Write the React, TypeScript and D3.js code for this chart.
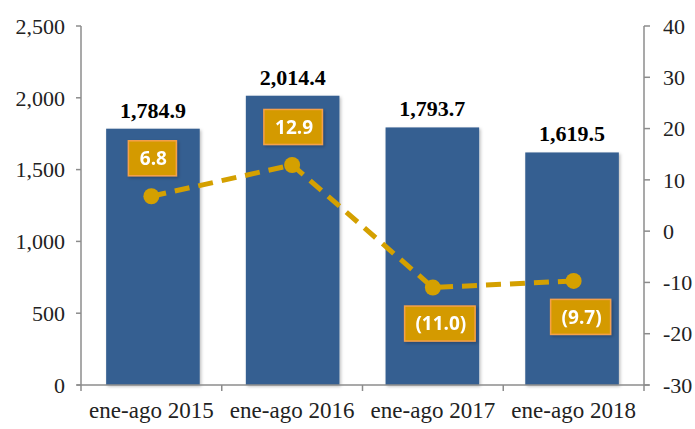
import React from "react";
import * as d3 from "d3";

const categories = ["ene-ago 2015", "ene-ago 2016", "ene-ago 2017", "ene-ago 2018"];
const barValues = [1784.9, 2014.4, 1793.7, 1619.5];
const growthValues = [6.8, 12.9, -11.0, -9.7];
const leftTicks = [0, 500, 1000, 1500, 2000, 2500];
const rightTicks = [-30, -20, -10, 0, 10, 20, 30, 40];

const W = 695;
const H = 429;
const M = { left: 81, right: 51, top: 26, bottom: 44 };

const BAR_COLOR = "#365F91";
const LINE_COLOR = "#D4A000";
const BOX_FILL = "#D49A00";
const BOX_STROKE = "#F5A04A";
const AXIS_COLOR = "#8C8C8C";

const fmtBar = d3.format(",.1f");
const fmtGrowth = (v: number) => (v < 0 ? `(${Math.abs(v).toFixed(1)})` : v.toFixed(1));

function textWidth(s: string) {
  let w = 0;
  for (const c of s) {
    if (c === ".") w += 5;
    else if (c === "(" || c === ")") w += 6;
    else w += 10.5;
  }
  return w;
}

export default function App() {
  const x = d3
    .scaleBand<string>()
    .domain(categories)
    .range([M.left, W - M.right])
    .paddingInner(0.33)
    .paddingOuter(0.18);
  const xCat = d3.scaleBand<string>().domain(categories).range([M.left, W - M.right]);
  const yL = d3.scaleLinear().domain([0, 2500]).range([H - M.bottom, M.top]);
  const yR = d3.scaleLinear().domain([-30, 40]).range([H - M.bottom, M.top]);

  const pts = growthValues.map((v, i) => [xCat(categories[i])! + xCat.bandwidth() / 2, yR(v)] as [number, number]);
  const line = d3.line()(pts) || "";
  const serif = "'Liberation Serif', 'Times New Roman', serif";
  const x0 = M.left;
  const x1 = W - M.right;
  const yBase = H - M.bottom;

  return (
    <svg width={W} height={H} style={{ position: "absolute", left: 0, top: 0, background: "#fff" }}>
      <defs>
        <filter id="sh" x="-20%" y="-20%" width="140%" height="140%">
          <feDropShadow dx="1.5" dy="1.5" stdDeviation="1.5" floodColor="#000" floodOpacity="0.25" />
        </filter>
        <filter id="soft" x="-50%" y="-50%" width="200%" height="200%">
          <feGaussianBlur stdDeviation="0.6" />
        </filter>
      </defs>

      {/* bars */}
      {barValues.map((v, i) => (
        <rect
          key={i}
          x={x(categories[i])}
          y={yL(v)}
          width={x.bandwidth()}
          height={yBase - yL(v)}
          fill={BAR_COLOR}
          filter="url(#sh)"
        />
      ))}

      {/* bar labels */}
      {barValues.map((v, i) => (
        <text
          key={i}
          x={x(categories[i])! + x.bandwidth() / 2}
          y={yL(v) - 11}
          textAnchor="middle"
          fontFamily={serif}
          fontWeight="bold"
          fontSize={22}
          fill="#000"
        >
          {fmtBar(v)}
        </text>
      ))}

      {/* axes */}
      <line x1={x0} x2={x0} y1={M.top} y2={yBase} stroke={AXIS_COLOR} strokeWidth={1.5} />
      <line x1={x1} x2={x1} y1={M.top} y2={yBase} stroke={AXIS_COLOR} strokeWidth={1.5} />
      <line x1={x0 - 4} x2={x1 + 5} y1={yBase} y2={yBase} stroke={AXIS_COLOR} strokeWidth={1.5} />
      {leftTicks.map((t) => (
        <g key={t}>
          <line x1={x0 - 5} x2={x0} y1={yL(t)} y2={yL(t)} stroke={AXIS_COLOR} strokeWidth={1.5} />
          <text x={x0 - 16} y={yL(t)} dy="0.35em" textAnchor="end" fontFamily={serif} fontSize={22} fill="#222">
            {d3.format(",")(t)}
          </text>
        </g>
      ))}
      {rightTicks.map((t) => (
        <g key={t}>
          <line x1={x1} x2={x1 + 6} y1={yR(t)} y2={yR(t)} stroke={AXIS_COLOR} strokeWidth={1.5} />
          <text x={x1 + 19} y={yR(t)} dy="0.35em" textAnchor="start" fontFamily={serif} fontSize={22} fill="#222">
            {t}
          </text>
        </g>
      ))}
      {[...categories.map((c) => xCat(c)!), x1].map((xx, i) => (
        <line key={i} x1={xx} x2={xx} y1={yBase} y2={yBase + 6} stroke={AXIS_COLOR} strokeWidth={1.5} />
      ))}
      {categories.map((c) => (
        <text
          key={c}
          x={xCat(c)! + xCat.bandwidth() / 2}
          y={yBase + 33}
          textAnchor="middle"
          fontFamily={serif}
          fontSize={23}
          fill="#222"
        >
          {c}
        </text>
      ))}

      {/* growth line */}
      <path d={line} fill="none" stroke={LINE_COLOR} strokeWidth={5} strokeDasharray="15,9" />
      {pts.map((p, i) => (
        <circle key={i} cx={p[0]} cy={p[1]} r={8} fill={LINE_COLOR} filter="url(#soft)" />
      ))}

      {/* growth labels */}
      {growthValues.map((v, i) => {
        const s = fmtGrowth(v);
        const w = textWidth(s) + 22;
        const h = 35;
        const cx = pts[i][0] + (v < 0 ? 7 : 1);
        const cy = pts[i][1] + (v < 0 ? 36 : -38);
        return (
          <g key={i} filter="url(#sh)">
            <rect x={cx - w / 2} y={cy - h / 2} width={w} height={h} fill={BOX_FILL} stroke={BOX_STROKE} strokeWidth={1.5} />
            <text
              x={cx + 1}
              y={cy}
              dy="0.36em"
              textAnchor="middle"
              fontFamily="'Open Sans', sans-serif"
              fontWeight="bold"
              fontSize={19}
              fill="#fff"
            >
              {s}
            </text>
          </g>
        );
      })}
    </svg>
  );
}
